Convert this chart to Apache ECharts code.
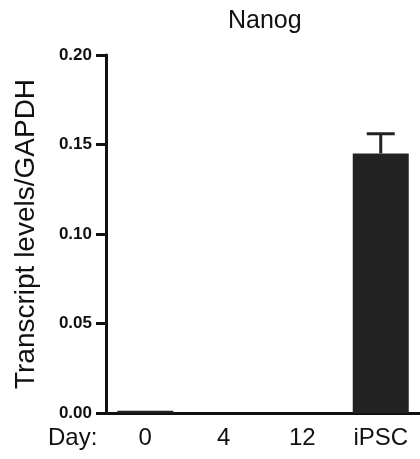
<!DOCTYPE html>
<html>
<head>
<meta charset="utf-8">
<script src="https://cdn.jsdelivr.net/npm/echarts@6/dist/echarts.min.js"></script>
<style>
  html, body { margin: 0; padding: 0; background: #fff; }
  #chart { width: 420px; height: 459px; }
</style>
</head>
<body>
<div id="chart"></div>
<script>
// 数据
var categories = ['0', '4', '12', 'iPSC'];
var means = [0.0012, 0, 0, 0.145];
var errors = [0, 0, 0, 0.011];
var yTicks = [0, 0.05, 0.10, 0.15, 0.20];

var myChart = echarts.init(document.getElementById('chart'));
var font = 'Liberation Sans, Arial, Helvetica, sans-serif';

var errData = categories.map(function (c, i) {
    return [i, means[i], means[i] + errors[i]];
});

var option = {
    backgroundColor: '#fff',
    animation: false,
    title: {
        text: 'Nanog',
        left: 223,
        top: 4,
        textStyle: { fontFamily: font, fontWeight: 'normal', fontSize: 25, color: '#111' }
    },
    grid: { left: 106, top: 55, bottom: 46, width: 320 },
    xAxis: {
        type: 'category',
        data: categories,
        axisLine: { lineStyle: { color: '#111', width: 3 } },
        axisTick: { alignWithLabel: true, length: 10, lineStyle: { color: '#111', width: 3 } },
        axisLabel: { fontFamily: font, fontSize: 24, color: '#111', margin: 13 }
    },
    yAxis: {
        type: 'value',
        min: yTicks[0],
        max: yTicks[yTicks.length - 1],
        interval: 0.05,
        name: 'Transcript levels/GAPDH',
        nameLocation: 'middle',
        nameGap: 66,
        nameTextStyle: { fontFamily: font, fontSize: 28, color: '#111' },
        splitLine: { show: false },
        axisLine: { show: true, lineStyle: { color: '#111', width: 3 } },
        axisTick: { show: true, length: 10, lineStyle: { color: '#111', width: 3 } },
        axisLabel: {
            fontFamily: font, fontSize: 17, fontWeight: 'bold', color: '#111', margin: 14,
            formatter: function (v) { return v.toFixed(2); }
        }
    },
    graphic: [{
        type: 'text',
        left: 48,
        top: 426,
        style: { text: 'Day:', font: '24px ' + font, fill: '#111' }
    }],
    series: [
        {
            type: 'bar',
            data: means,
            barWidth: 56,
            itemStyle: { color: '#222' }
        },
        {
            type: 'custom',
            data: errData,
            z: 1,
            renderItem: function (params, api) {
                if (api.value(2) <= api.value(1)) return null;
                var lo = api.coord([api.value(0), api.value(1)]);
                var hi = api.coord([api.value(0), api.value(2)]);
                var hw = 14;
                var st = { stroke: '#222', lineWidth: 3 };
                return {
                    type: 'group',
                    children: [
                        { type: 'line', shape: { x1: hi[0], y1: hi[1], x2: lo[0], y2: lo[1] }, style: st },
                        { type: 'line', shape: { x1: hi[0] - hw, y1: hi[1], x2: hi[0] + hw, y2: hi[1] }, style: st }
                    ]
                };
            }
        }
    ]
};

myChart.setOption(option);
</script>
</body>
</html>
